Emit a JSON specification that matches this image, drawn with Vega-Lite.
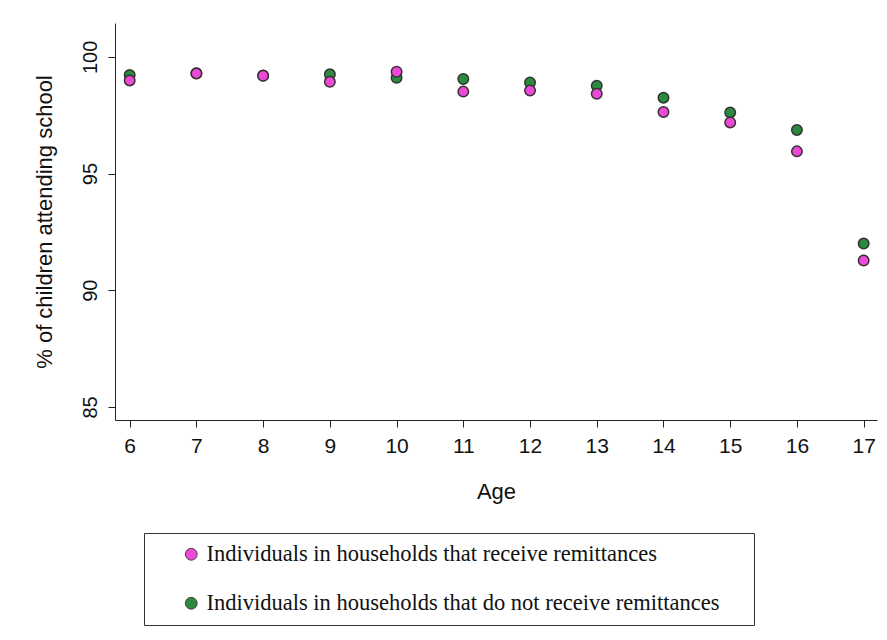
{
  "$schema": "https://vega.github.io/schema/vega-lite/v6.json",
  "autosize": {"type": "none"},
  "width": 762,
  "height": 397,
  "padding": {"left": 115, "top": 23, "right": 10, "bottom": 220},
  "background": "white",
  "config": {"view": {"stroke": null}},
  "data": {
    "values": [
      {"age": 6, "group": "Individuals in households that do not receive remittances", "pct": 99.22},
      {"age": 7, "group": "Individuals in households that do not receive remittances", "pct": 99.3},
      {"age": 8, "group": "Individuals in households that do not receive remittances", "pct": 99.2},
      {"age": 9, "group": "Individuals in households that do not receive remittances", "pct": 99.25},
      {"age": 10, "group": "Individuals in households that do not receive remittances", "pct": 99.1},
      {"age": 11, "group": "Individuals in households that do not receive remittances", "pct": 99.05},
      {"age": 12, "group": "Individuals in households that do not receive remittances", "pct": 98.9},
      {"age": 13, "group": "Individuals in households that do not receive remittances", "pct": 98.76},
      {"age": 14, "group": "Individuals in households that do not receive remittances", "pct": 98.25},
      {"age": 15, "group": "Individuals in households that do not receive remittances", "pct": 97.62},
      {"age": 16, "group": "Individuals in households that do not receive remittances", "pct": 96.87},
      {"age": 17, "group": "Individuals in households that do not receive remittances", "pct": 92.0},
      {"age": 6, "group": "Individuals in households that receive remittances", "pct": 98.99},
      {"age": 7, "group": "Individuals in households that receive remittances", "pct": 99.29},
      {"age": 8, "group": "Individuals in households that receive remittances", "pct": 99.19},
      {"age": 9, "group": "Individuals in households that receive remittances", "pct": 98.93},
      {"age": 10, "group": "Individuals in households that receive remittances", "pct": 99.36},
      {"age": 11, "group": "Individuals in households that receive remittances", "pct": 98.51},
      {"age": 12, "group": "Individuals in households that receive remittances", "pct": 98.56},
      {"age": 13, "group": "Individuals in households that receive remittances", "pct": 98.42},
      {"age": 14, "group": "Individuals in households that receive remittances", "pct": 97.64},
      {"age": 15, "group": "Individuals in households that receive remittances", "pct": 97.19},
      {"age": 16, "group": "Individuals in households that receive remittances", "pct": 95.95},
      {"age": 17, "group": "Individuals in households that receive remittances", "pct": 91.27}
    ]
  },
  "mark": {"type": "point", "filled": true, "opacity": 1, "size": 110, "stroke": "#333333", "strokeWidth": 1.5},
  "encoding": {
    "x": {
      "field": "age",
      "type": "quantitative",
      "scale": {"domain": [5.78, 17.2], "nice": false, "zero": false},
      "axis": {
        "title": "Age",
        "values": [6, 7, 8, 9, 10, 11, 12, 13, 14, 15, 16, 17],
        "grid": false,
        "domainColor": "#222222",
        "tickColor": "#222222",
        "tickSize": 7,
        "labelFont": "Liberation Sans",
        "labelFontSize": 21,
        "labelColor": "#111111",
        "labelPadding": 8,
        "titleFont": "Liberation Sans",
        "titleFontSize": 22,
        "titleFontWeight": "normal",
        "titleColor": "#111111",
        "titlePadding": 25
      }
    },
    "y": {
      "field": "pct",
      "type": "quantitative",
      "scale": {"domain": [84.44, 101.45], "nice": false, "zero": false},
      "axis": {
        "title": "% of children attending school",
        "values": [85, 90, 95, 100],
        "grid": false,
        "domainColor": "#222222",
        "tickColor": "#222222",
        "tickSize": 7,
        "labelAngle": -90,
        "labelAlign": "center",
        "labelBaseline": "alphabetic",
        "labelFont": "Liberation Sans",
        "labelFontSize": 20,
        "labelColor": "#111111",
        "labelPadding": 12,
        "titleFont": "Liberation Sans",
        "titleFontSize": 22,
        "titleFontWeight": "normal",
        "titleColor": "#111111",
        "titlePadding": 24
      }
    },
    "color": {
      "field": "group",
      "type": "nominal",
      "scale": {
        "domain": ["Individuals in households that receive remittances", "Individuals in households that do not receive remittances"],
        "range": ["#ee48d8", "#2a8a3e"]
      },
      "legend": {
        "title": "\u00a0",
        "titleOrient": "right",
        "titleFontSize": 10,
        "titlePadding": 25,
        "orient": "none",
        "legendX": 29,
        "legendY": 510,
        "strokeColor": "#333333",
        "fillColor": "white",
        "padding": 10,
        "symbolType": "circle",
        "symbolSize": 140,
        "symbolStrokeColor": "#444444",
        "symbolStrokeWidth": 1,
        "symbolOffset": 26,
        "labelOffset": 4,
        "labelFont": "Liberation Serif",
        "labelFontSize": 22.5,
        "labelColor": "#111111",
        "labelLimit": 700,
        "rowPadding": 26
      }
    }
  }
}
